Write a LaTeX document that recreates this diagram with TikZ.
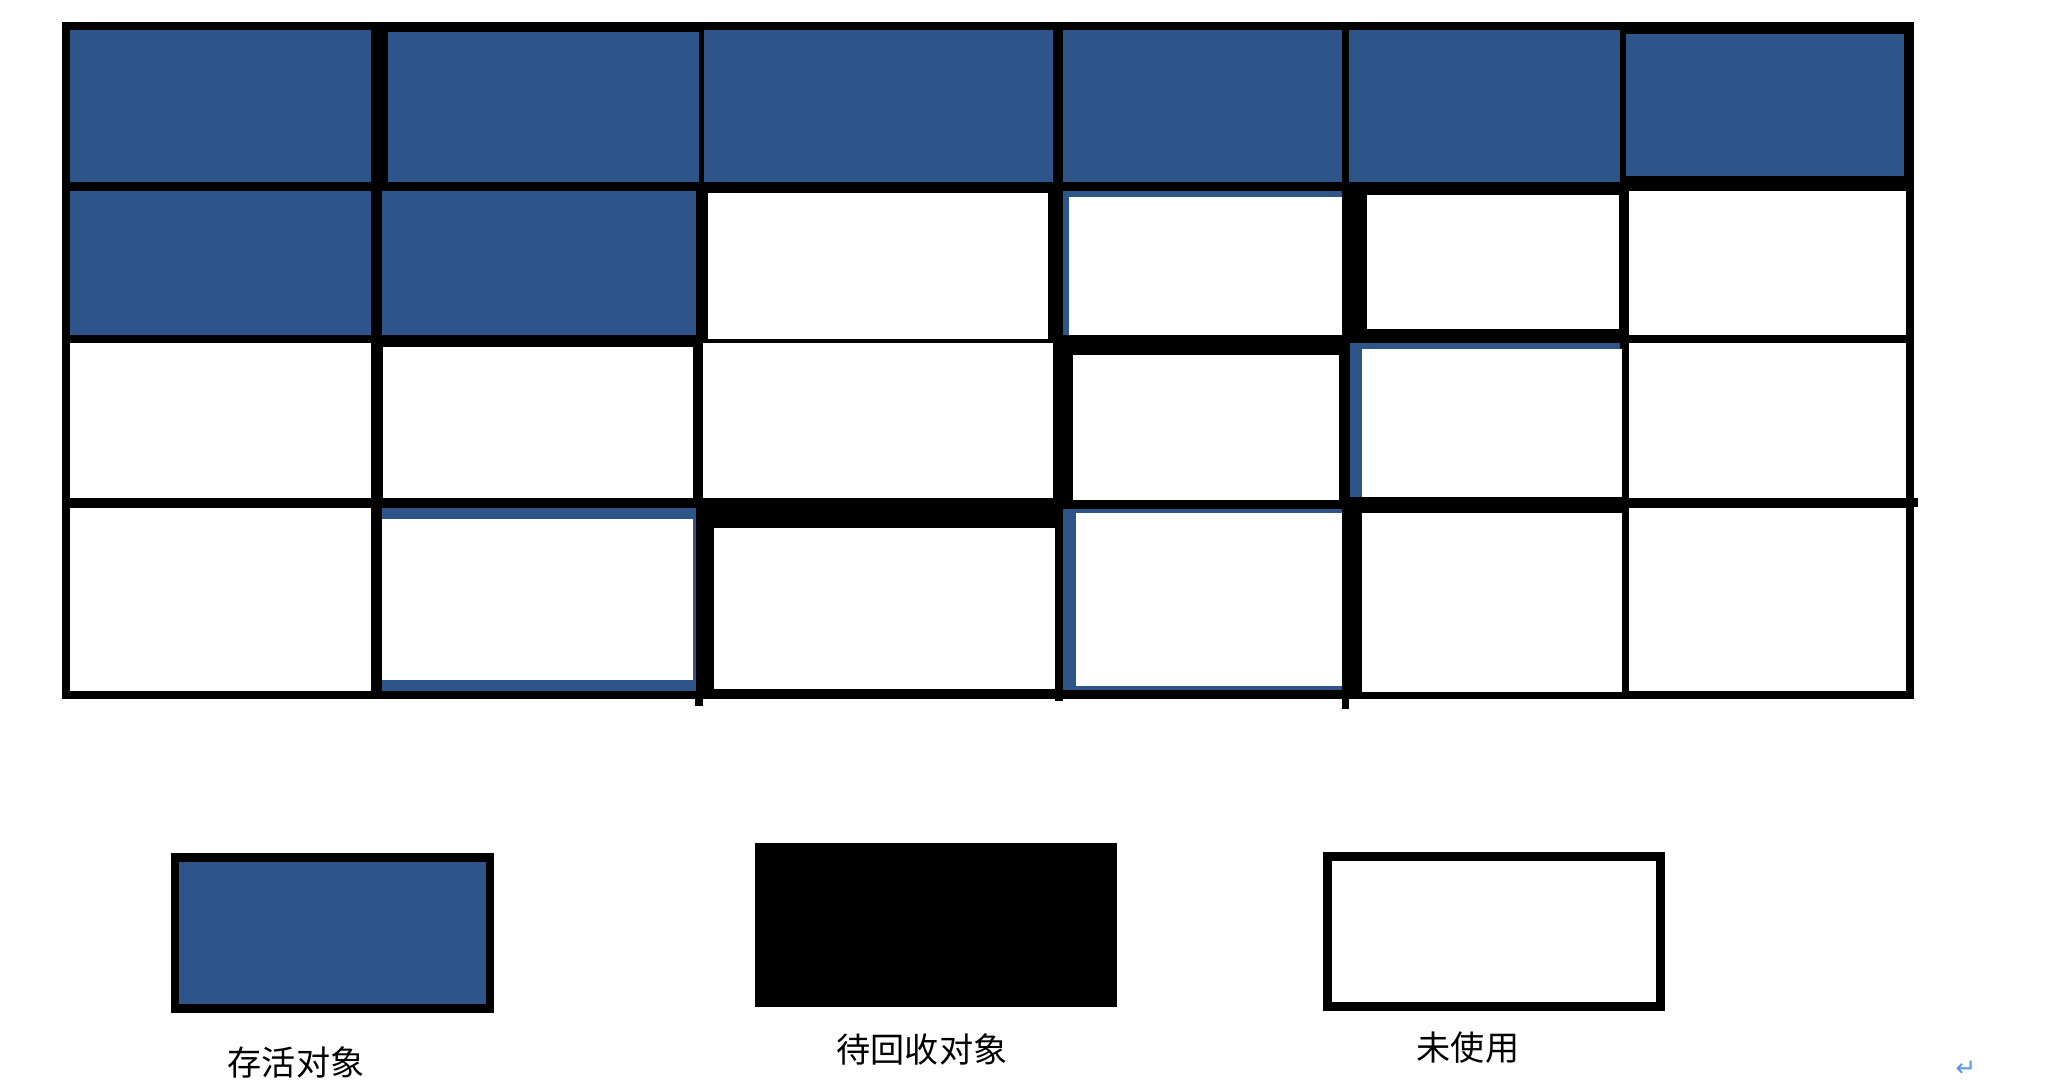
\documentclass[tikz,border=0pt]{standalone}
\usepackage{fontspec}
\newfontfamily\cjk{Noto Sans CJK SC}
\newfontfamily\marksym{DejaVu Sans}
\usepackage{tikz}
\definecolor{liveblue}{RGB}{45,85,138}
\definecolor{markblue}{RGB}{90,150,235}

\begin{document}
\begin{tikzpicture}[x=0.01cm, y=-0.01cm,
		live/.style={fill=liveblue},
		unused/.style={fill=white},
		frame/.style={fill=black},
		legendtext/.style={font=\cjk\fontsize{9.7pt}{11pt}\selectfont, inner sep=0pt}]
			\useasboundingbox[fill=white] (0,0) rectangle (2050,1084);
			
			% Black grid background with the little overshoots
			\fill[frame] (62,22) rectangle (1914,699);
			\fill[frame] (1900,498) rectangle (1918,507);
			\fill[frame] (695,690) rectangle (703,706);
			\fill[frame] (1055,690) rectangle (1063,701);
			\fill[frame] (1342,690) rectangle (1349,709);
			
			% Row 1: all live
			\fill[live] (70,30) rectangle (371,182);
			\fill[live] (388,32) rectangle (699,182);
			\fill[live] (704,30) rectangle (1053,182);
			\fill[live] (1063,30) rectangle (1342,182);
			\fill[live] (1349,30) rectangle (1620,182);
			\fill[live] (1626,34) rectangle (1904,176);
			
			% Row 2
			\fill[live] (70,191) rectangle (371,335);
			\fill[live] (382,191) rectangle (696,335);
			\fill[unused] (708,193) rectangle (1048,339);
			\fill[live] (1063,191) rectangle (1342,335);
			\fill[unused] (1069,197) rectangle (1342,335);
			\fill[unused] (1367,195) rectangle (1619,329);
			\fill[unused] (1629,191) rectangle (1906,335);
			
			% Row 3
			\fill[unused] (70,343) rectangle (371,498);
			\fill[unused] (383,347) rectangle (693,498);
			\fill[unused] (703,343) rectangle (1053,498);
			\fill[unused] (1073,355) rectangle (1339,500);
			\fill[live] (1350,343) rectangle (1620,497);
			\fill[unused] (1362,349) rectangle (1622,497);
			\fill[unused] (1629,343) rectangle (1906,498);
			
			% Row 4
			\fill[unused] (70,508) rectangle (371,691);
			\fill[live] (382,508) rectangle (696,691);
			\fill[unused] (382,519) rectangle (693,680);
			\fill[unused] (714,528) rectangle (1055,689);
			\fill[live] (1063,509) rectangle (1342,690);
			\fill[unused] (1076,513) rectangle (1342,686);
			\fill[unused] (1362,513) rectangle (1622,692);
			\fill[unused] (1629,508) rectangle (1906,691);
			
			% Legend boxes
			\fill[frame] (171,853) rectangle (494,1013);
			\fill[live] (179,862) rectangle (486,1004);
			\fill[frame] (755,843) rectangle (1117,1007);
			\fill[frame] (1323,852) rectangle (1665,1011);
			\fill[unused] (1332,861) rectangle (1656,1002);
			
			% Legend labels
			\node[legendtext] (livelabel) at (296,1062) {存活对象};
			\node[legendtext] (garbagelabel) at (922,1049) {待回收对象};
			\node[legendtext] (freelabel) at (1468,1048) {未使用};
			\node[text=markblue, inner sep=0pt, font=\marksym\fontsize{7pt}{8pt}\selectfont] (retmark) at (1966,1069) {↵};
		\end{tikzpicture}
\end{document}
